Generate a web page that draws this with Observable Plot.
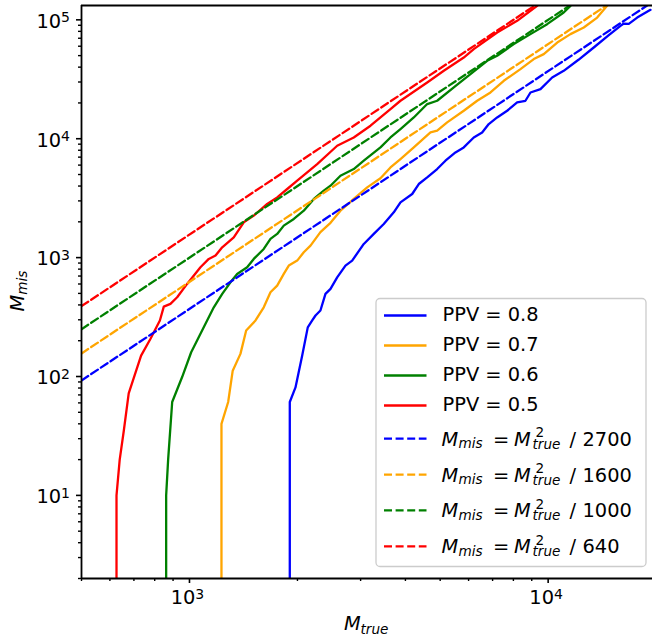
<!DOCTYPE html>
<html><head><meta charset="utf-8">
<script src="https://cdn.jsdelivr.net/npm/d3@7"></script>
<script src="https://cdn.jsdelivr.net/npm/@observablehq/plot@0.6"></script>
<style>body{margin:0;background:#fff} svg{display:block}</style>
</head><body><div id="chart"></div>
<script>
// PPV = 0.8
const mTrue08 = [1904,1904,1975,2062,2137,2199,2246,2318,2394,2473,2581,2722,2842,3062,3265,3481,3712,3875,4178,4358,4600,4904,5172,5515,5817,6203,6546,6830,7208,7686,8195,8644,8927,9520,10260,11050,12150,13400,14730,15910,16250,16780,17710,19290];
const mMis08  = [1,61,81,150,259,296,326,359,495,546,683,857,944,1303,1582,1919,2402,2916,3428,4159,4732,5561,6531,7674,8450,10250,11290,13290,15100,17190,20180,20860,24490,26160,32740,37260,46130,58530,74080,89040,93090,92500,104500,121300];
// PPV = 0.7
const mTrue07 = [1228,1228,1282,1320,1387,1439,1528,1611,1682,1756,1832,1892,1997,2083,2175,2318,2473,2636,2871,3130,3408,3634,3875,4221,4698,4904,5229,5817,6340,6906,7521,8371,9120,9722,10600,11540,12570,13700,14600];
const mMis07  = [1,40,61,112,155,244,296,382,511,582,729,857,944,1109,1262,1637,1961,2483,3113,3897,4656,5737,6751,8450,11290,11680,13710,17190,20860,24490,30720,38520,46770,51500,64440,75830,86160,104500,131100];
// PPV = 0.6
const mTrue06 = [861,861,872,895,954,1011,1120,1169,1234,1301,1358,1448,1511,1611,1682,1756,1832,1954,2083,2222,2368,2473,2636,2871,3062,3408,3634,3875,4221,4600,4904,5457,6073,6761,7208,8021,8927,9936,11050,11540];
const mMis06  = [1,10,20,61,99,160,296,382,495,620,729,829,975,1183,1436,1582,1858,2115,2483,3113,3656,4027,4887,5561,6531,8450,10250,12060,15100,19570,20860,26990,34980,45240,49850,62500,75830,92000,115200,131100];
// PPV = 0.5
const mTrue05 = [626,626,639,656,677,733,778,827,848,885,924,985,1073,1132,1182,1234,1329,1417,1511,1647,1756,1873,1997,2270,2581,2871,3197,3634,3875,4600,5117,5817,6203,7208,8195,9318];
const mMis05  = [1,10,20,35,72,150,207,296,387,408,464,601,829,975,1040,1221,1482,1981,2254,2826,3214,3777,4436,6124,8730,10250,12860,17780,20860,29720,37260,48200,56700,78200,98100,131100];

const ppvLabels = ["PPV = 0.8","PPV = 0.7","PPV = 0.6","PPV = 0.5"];
const seriesColors = ["blue","orange","green","red"];
const divisors = [2700,1600,1000,640];
const xDomain = [500,19540];
const yDomain = [2,132000];
const xMajorTicks = [1000,10000];
const xMajorExp = ["3","4"];
const xMinorTicks = [500,600,700,800,900,2000,3000,4000,5000,6000,7000,8000,9000];
const yMajorTicks = [10,100,1000,10000,100000];
const yMajorExp = ["1","2","3","4","5"];
const yMinorTicks = [2,3,4,5,6,7,8,9,20,30,40,50,60,70,80,90,200,300,400,500,600,700,800,900,2000,3000,4000,5000,6000,7000,8000,9000,20000,30000,40000,50000,60000,70000,80000,90000];

const FS = 19.4, SFS = 13.6, LW = 2.3, DASH = "8,3.6";
const solidSeries = [[mTrue08,mMis08],[mTrue07,mMis07],[mTrue06,mMis06],[mTrue05,mMis05]];

const marks = [];
solidSeries.forEach(([xs, ys], i) => {
  const rows = xs.map((x, j) => ({x, y: ys[j]}));
  marks.push(Plot.line(rows, {x: "x", y: "y", stroke: seriesColors[i], strokeWidth: LW, strokeLinejoin: "round", clip: true}));
});
divisors.forEach((d, i) => {
  const rows = xDomain.map(x => ({x, y: x * x / d}));
  marks.push(Plot.line(rows, {x: "x", y: "y", stroke: seriesColors[i], strokeWidth: LW, strokeDasharray: DASH, clip: true}));
});
marks.push(
  Plot.axisX({ticks: xMinorTicks, tickSize: 3, tickFormat: () => "", strokeWidth: 1.4, label: null}),
  Plot.axisX({ticks: xMajorTicks, tickSize: 5, tickFormat: () => "", strokeWidth: 1.6, label: null}),
  Plot.axisY({ticks: yMinorTicks, tickSize: 3, tickFormat: () => "", strokeWidth: 1.4, label: null}),
  Plot.axisY({ticks: yMajorTicks, tickSize: 5, tickFormat: () => "", strokeWidth: 1.6, label: null}),
  Plot.ruleX([xDomain[0]], {stroke: "black", strokeWidth: 1.8}),
  Plot.ruleY([yDomain[0]], {stroke: "black", strokeWidth: 1.8}),
  Plot.ruleY([yDomain[1]], {stroke: "black", strokeWidth: 1.8})
);

const chart = Plot.plot({
  width: 652, height: 638,
  marginLeft: 81, marginRight: 0, marginTop: 5, marginBottom: 60,
  style: {fontFamily: "DejaVu Sans", background: "#fff"},
  x: {type: "log", domain: xDomain},
  y: {type: "log", domain: yDomain},
  marks
});
document.getElementById("chart").appendChild(chart);

const sx = chart.scale("x"), sy = chart.scale("y");
const svg = d3.select(chart);
const g = svg.append("g").attr("font-family", "DejaVu Sans").attr("fill", "black").attr("text-anchor", "start");

// tick labels with superscripts
xMajorTicks.forEach((v, i) => {
  const t = g.append("text").attr("x", sx.apply(v) - 1.5).attr("y", 603.5).attr("text-anchor", "middle").attr("font-size", FS);
  t.append("tspan").text("10");
  t.append("tspan").attr("dy", -5).attr("font-size", 14).text(xMajorExp[i]);
});
yMajorTicks.forEach((v, i) => {
  const t = g.append("text").attr("x", 70).attr("y", sy.apply(v) + 8.3).attr("text-anchor", "end").attr("font-size", FS);
  t.append("tspan").text("10");
  t.append("tspan").attr("dy", -5.5).attr("font-size", 14).text(yMajorExp[i]);
});

// axis labels
function put(parent, x, y, txt, size, italic) {
  return parent.append("text").attr("x", x).attr("y", y).attr("font-size", size)
    .attr("text-anchor", "start")
    .attr("font-style", italic ? "italic" : "normal").text(txt);
}
put(g, 344, 630, "M", FS, true);
put(g, 360.5, 633.5, "true", SFS, true);
const yl = g.append("g").attr("transform", "translate(23.5,291) rotate(-90)");
put(yl, -20.4, 0, "M", FS, true);
put(yl, -3.8, 3.5, "mis", SFS, true);

// legend
const lg = g.append("g");
lg.append("rect").attr("x", 376).attr("y", 298.5).attr("width", 270).attr("height", 268)
  .attr("rx", 4).attr("fill", "white").attr("fill-opacity", 0.8).attr("stroke", "#cccccc").attr("stroke-width", 1.3);
const rowBase = [321, 351, 381, 411, 445.7, 481.6, 517.4, 553.3];
ppvLabels.forEach((lab, i) => {
  const b = rowBase[i], cy = b - 5.5;
  lg.append("line").attr("x1", 384).attr("x2", 426.5).attr("y1", cy).attr("y2", cy)
    .attr("stroke", seriesColors[i]).attr("stroke-width", LW);
  put(lg, 442.5, b, lab, FS, false);
});
divisors.forEach((d, i) => {
  const b = rowBase[4 + i], cy = b - 7;
  lg.append("line").attr("x1", 384).attr("x2", 426.5).attr("y1", cy).attr("y2", cy)
    .attr("stroke", seriesColors[i]).attr("stroke-width", LW).attr("stroke-dasharray", DASH);
  put(lg, 441.5, b, "M", FS, true);
  put(lg, 458.5, b + 2.5, "mis", SFS, true);
  put(lg, 493, b, "=", FS, false);
  put(lg, 514, b, "M", FS, true);
  put(lg, 535.5, b - 8.5, "2", SFS, false);
  put(lg, 532.5, b + 3, "true", SFS, true);
  put(lg, 569.5, b, "/", FS, false);
  put(lg, 582.5, b, String(d), FS, false);
});
</script>
</body></html>
